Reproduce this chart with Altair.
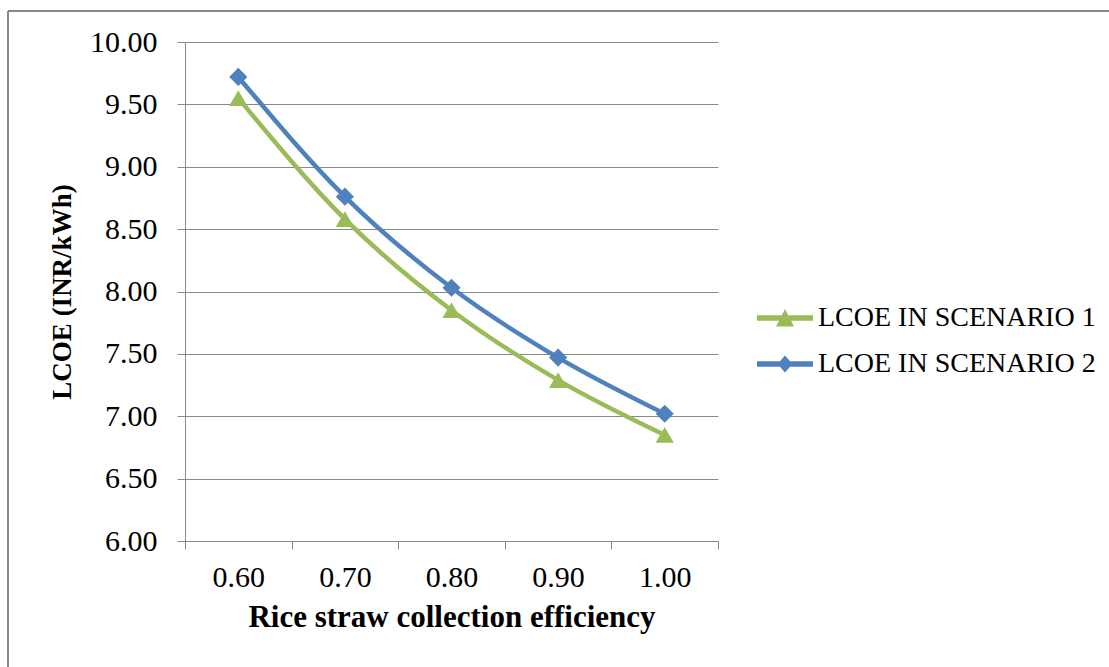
import altair as alt
import pandas as pd

# ---- data ----
efficiency = ["0.60", "0.70", "0.80", "0.90", "1.00"]
scenario1 = [9.55, 8.58, 7.85, 7.29, 6.85]
scenario2 = [9.72, 8.76, 8.03, 7.47, 7.02]
series_names = ["LCOE IN SCENARIO 1", "LCOE IN SCENARIO 2"]
y_ticks = [6.0, 6.5, 7.0, 7.5, 8.0, 8.5, 9.0, 9.5, 10.0]

rows = []
for name, vals in zip(series_names, [scenario1, scenario2]):
    for e, v in zip(efficiency, vals):
        rows.append({"eff": e, "lcoe": v, "series": name})
df = pd.DataFrame(rows)

GREEN = "#9BBB59"
BLUE = "#4F81BD"
GRID = "#888888"
FONT = "Liberation Serif"

x_enc = alt.X(
    "eff:O",
    sort=efficiency,
    scale=alt.Scale(type="band", paddingInner=0, paddingOuter=0),
    axis=alt.Axis(
        title="Rice straw collection efficiency",
        labelAngle=0,
        tickBand="extent",
        ticks=True,
        tickSize=8,
        tickColor=GRID,
        domainColor=GRID,
        grid=False,
        labelFont=FONT,
        labelFontSize=30,
        labelColor="black",
        labelPadding=13,
        titleFont=FONT,
        titleFontSize=31,
        titleFontWeight="bold",
        titleColor="black",
        titlePadding=10,
    ),
)
y_enc = alt.Y(
    "lcoe:Q",
    scale=alt.Scale(domain=[6, 10], nice=False, zero=False),
    axis=alt.Axis(
        title="LCOE (INR/kWh)",
        values=y_ticks,
        format=".2f",
        tickSize=8,
        tickColor=GRID,
        domainColor=GRID,
        grid=True,
        gridColor=GRID,
        gridWidth=1,
        labelFont=FONT,
        labelFontSize=30,
        labelColor="black",
        labelPadding=20,
        titleFont=FONT,
        titleFontSize=27,
        titleFontWeight="bold",
        titleColor="black",
        titlePadding=13,
    ),
)

layers = []
styles = [(GREEN, "triangle-up", 330), (BLUE, "diamond", 330)]
for name, (col, shp, sz) in zip(series_names, styles):
    base = alt.Chart(df).transform_filter(alt.datum.series == name)
    layers.append(
        base.mark_line(color=col, strokeWidth=4.5, interpolate="monotone").encode(x=x_enc, y=y_enc)
    )
    layers.append(
        base.mark_point(shape=shp, filled=True, color=col, size=sz, opacity=1).encode(x=x_enc, y=y_enc)
    )

# legend-only layer (no rows drawn)
tri_path = "M-2.8,-0.28H2.8V0.28H-2.8Z M0,-0.9L0.9,0.85H-0.9Z"
dia_path = "M-2.8,-0.28H2.8V0.28H-2.8Z M0,-0.85L0.75,0L0,0.85L-0.75,0Z"
legend_props = dict(
    title=None,
    orient="none",
    legendX=586,
    legendY=262,
    symbolSize=400,
    symbolStrokeWidth=0,
    labelFont=FONT,
    labelFontSize=28,
    labelColor="black",
    labelOffset=19,
    labelLimit=500,
    rowPadding=18,
)
legend_layer = (
    alt.Chart(df)
    .transform_filter("false")
    .mark_point(filled=True, opacity=1)
    .encode(
        x=x_enc,
        y=y_enc,
        color=alt.Color(
            "series:N",
            scale=alt.Scale(domain=series_names, range=[GREEN, BLUE]),
            legend=alt.Legend(**legend_props),
        ),
        shape=alt.Shape(
            "series:N",
            scale=alt.Scale(domain=series_names, range=[tri_path, dia_path]),
            legend=alt.Legend(**legend_props),
        ),
    )
)

# outer chart frame (top and left edges visible in the reference)
frame_top = alt.Chart(df).mark_rule(color=GRID, strokeWidth=1.5).encode(
    x=alt.value(-177), x2=alt.value(940), y=alt.value(-31)
)
frame_left = alt.Chart(df).mark_rule(color=GRID, strokeWidth=1.5).encode(
    x=alt.value(-177), y=alt.value(-31), y2=alt.value(640)
)

chart = (
    alt.layer(frame_top, frame_left, *layers, legend_layer)
    .properties(
        width=533,
        height=499,
        padding={"left": 185, "top": 42, "right": 391, "bottom": 126},
        autosize=alt.AutoSizeParams(type="none"),
        background="white",
    )
    .configure_view(stroke=None)
)

chart.save("out.html", embed_options={"renderer": "svg", "actions": False})
